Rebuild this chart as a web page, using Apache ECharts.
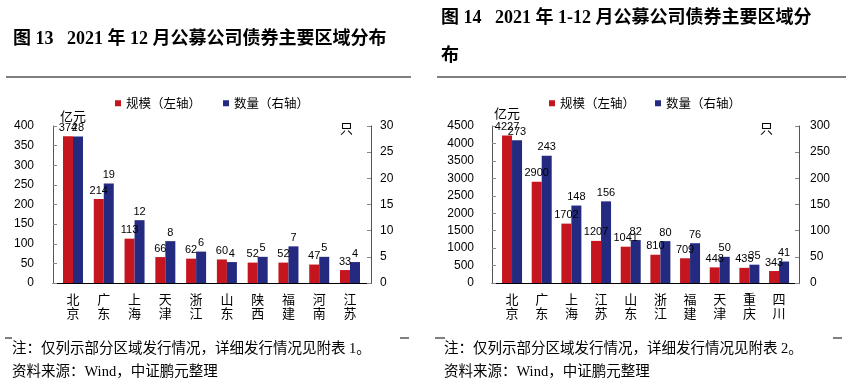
<!DOCTYPE html>
<html>
<head>
<meta charset="utf-8">
<script src="https://cdn.jsdelivr.net/npm/echarts@6/dist/echarts.min.js"></script>
<style>
html,body{margin:0;padding:0;background:#fff;}
#c{width:846px;height:387px;}
</style>
</head>
<body>
<div id="c"></div>
<script>
// ---- data ----
const cats1 = ['北京','广东','上海','天津','浙江','山东','陕西','福建','河南','江苏'];
const scale1 = [374,214,113,66,62,60,52,52,47,33];
const count1 = [28,19,12,8,6,4,5,7,5,4];
const cats2 = ['北京','广东','上海','江苏','山东','浙江','福建','天津','重庆','四川'];
const scale2 = [4227,2900,1702,1207,1041,810,709,448,435,343];
const count2 = [273,243,148,156,82,80,76,50,35,41];
const seriesNames = ['规模（左轴）','数量（右轴）'];
const leftRange1 = [0,400,50], rightRange1 = [0,30,5];
const leftRange2 = [0,4500,500], rightRange2 = [0,300,50];
const title1 = '图 13   2021 年 12 月公募公司债券主要区域分布';
const title2a = '图 14   2021 年 1-12 月公募公司债券主要区域分';
const title2b = '布';
const note1 = '注：仅列示部分区域发行情况，详细发行情况见附表 1。';
const note2 = '注：仅列示部分区域发行情况，详细发行情况见附表 2。';
const source = '资料来源：Wind，中证鹏元整理';

// ---- style ----
const RED = '#C5161F', BLUE = '#232A7F';
const SANS = "'Liberation Sans', Arial, 'Noto Sans CJK SC', sans-serif";
const NARROW = "'Liberation Sans Narrow', 'Liberation Sans', Arial, sans-serif";
const SERIF = "'Liberation Serif', 'Times New Roman', 'Noto Sans CJK SC', serif";
const CJK = "'Noto Sans CJK SC', sans-serif";

const chart = echarts.init(document.getElementById('c'), null, {renderer:'canvas'});

function outerX(grid, cats){
  return {gridIndex:grid, type:'category', data:cats, boundaryGap:true,
    axisLine:{show:true, lineStyle:{color:'#000', width:1}},
    axisTick:{show:false}, axisLabel:{show:false}, splitLine:{show:false}};
}
function innerX(grid, cats){
  return {gridIndex:grid, type:'category', data:cats, boundaryGap:true,
    axisLine:{show:false}, axisTick:{show:false}, splitLine:{show:false},
    axisLabel:{show:true, interval:0, margin:9, color:'#000', fontSize:13, lineHeight:14,
      fontFamily:CJK, formatter:v=>v.split('').join('\n')}};
}
function visY(grid, pos, r, name, nameStyle, labelMargin){
  return {gridIndex:grid, type:'value', position:pos, min:r[0], max:r[1], interval:r[2],
    axisLine:{show:true, lineStyle:{color:'#555', width:1}},
    axisTick:{show:true, inside:true, length:4, lineStyle:{color:'#888'}},
    splitLine:{show:false},
    axisLabel:{color:'#000', fontSize:12, fontFamily:SANS, margin:labelMargin, formatter:v=>String(v)},
    name:name, nameLocation:'end', nameGap:nameStyle.gap,
    nameTextStyle:Object.assign({color:'#000', fontSize:13, fontFamily:CJK, verticalAlign:'middle'}, nameStyle.style)};
}
function hidY(grid, r){
  return {gridIndex:grid, type:'value', show:false, min:r[0], max:r[1], interval:r[2], splitLine:{show:false}};
}
function bar(name, xi, yi, data, color){
  return {name:name, type:'bar', xAxisIndex:xi, yAxisIndex:yi, data:data,
    barWidth:10, barGap:0, itemStyle:{color:color},
    label:{show:true, position:'top', distance:3, color:'#000', fontSize:11, fontFamily:NARROW},
    animation:false};
}

const option = {
  animation:false,
  grid:[
    {left:53, top:126, width:318, height:157},
    {left:57.6, top:126, width:307.8, height:157},
    {left:492, top:126, width:307, height:157},
    {left:497.2, top:126, width:296.7, height:157}
  ],
  legend:[
    {left:110, top:92, itemWidth:6, itemHeight:6, itemGap:22, icon:'rect', data:seriesNames,
      textStyle:{fontSize:12.5, color:'#000', fontFamily:CJK}, selectedMode:false},
    {left:544, top:92, itemWidth:6, itemHeight:6, itemGap:20, icon:'rect', data:seriesNames,
      textStyle:{fontSize:12.5, color:'#000', fontFamily:CJK}, selectedMode:false}
  ],
  xAxis:[outerX(0,cats1), innerX(1,cats1), outerX(2,cats2), innerX(3,cats2)],
  yAxis:[
    visY(0,'left',leftRange1,'亿元',{gap:10, style:{align:'left', padding:[0,0,0,7]}},19),
    visY(0,'right',rightRange1,'只',{gap:-2, style:{align:'right', padding:[0,18,0,0]}},9),
    hidY(1,leftRange1), hidY(1,rightRange1),
    visY(2,'left',leftRange2,'亿元',{gap:13, style:{align:'left', padding:[0,0,0,2]}},18),
    visY(2,'right',rightRange2,'只',{gap:-2, style:{align:'right', padding:[0,26,0,0]}},11),
    hidY(3,leftRange2), hidY(3,rightRange2)
  ],
  series:[
    bar(seriesNames[0],1,2,scale1,RED),
    bar(seriesNames[1],1,3,count1,BLUE),
    bar(seriesNames[0],3,6,scale2,RED),
    bar(seriesNames[1],3,7,count2,BLUE)
  ],
  graphic:[
    {type:'text', left:13, top:30, style:{text:title1, font:'bold 18px '+SERIF, fill:'#000'}},
    {type:'text', left:441, top:9, style:{text:title2a, font:'bold 18px '+SERIF, fill:'#000'}},
    {type:'text', left:441, top:47, style:{text:title2b, font:'bold 18px '+SERIF, fill:'#000'}},
    {type:'line', shape:{x1:6, y1:77, x2:411, y2:77}, style:{stroke:'#000', lineWidth:1}},
    {type:'line', shape:{x1:437, y1:77, x2:846, y2:77}, style:{stroke:'#000', lineWidth:1}},
    {type:'line', shape:{x1:5, y1:338, x2:12, y2:338}, style:{stroke:'#000', lineWidth:1}},
    {type:'line', shape:{x1:400, y1:338, x2:409, y2:338}, style:{stroke:'#000', lineWidth:1}},
    {type:'line', shape:{x1:435, y1:338, x2:445, y2:338}, style:{stroke:'#000', lineWidth:1}},
    {type:'line', shape:{x1:833, y1:338, x2:842, y2:338}, style:{stroke:'#000', lineWidth:1}},
    {type:'text', left:12, top:342, style:{text:note1, font:'14.5px '+SERIF, fill:'#000'}},
    {type:'text', left:12, top:365, style:{text:source, font:'14.5px '+SERIF, fill:'#000'}},
    {type:'text', left:444, top:342, style:{text:note2, font:'14.5px '+SERIF, fill:'#000'}},
    {type:'text', left:444, top:365, style:{text:source, font:'14.5px '+SERIF, fill:'#000'}}
  ]
};
chart.setOption(option);
</script>
</body>
</html>
